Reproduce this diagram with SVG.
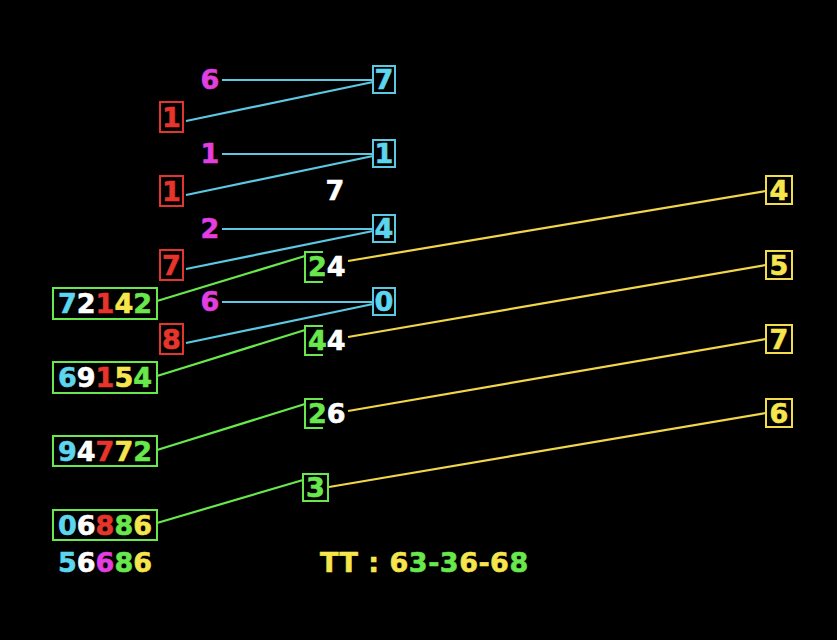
<svg xmlns="http://www.w3.org/2000/svg" width="837" height="640" viewBox="0 0 837 640">
<style>
text{font-family:"DejaVu Sans",Verdana,sans-serif;font-weight:bold;font-size:27px;stroke-width:0.6;stroke-linejoin:round}
.m{fill:#e23ee0;stroke:#e23ee0}.c{fill:#5cd6ee;stroke:#5cd6ee}.r{fill:#e8352b;stroke:#e8352b}.g{fill:#68e84c;stroke:#68e84c}.y{fill:#f6e54c;stroke:#f6e54c}.w{fill:#ffffff;stroke:#ffffff}
.bc{fill:none;stroke:#5cc8e2;stroke-width:2}
.br{fill:none;stroke:#e2352d;stroke-width:2}
.bg{fill:none;stroke:#68e84c;stroke-width:2}
.by{fill:none;stroke:#f2dc4c;stroke-width:2}
.lc{stroke:#5cc8e2;stroke-width:2.2;fill:none}
.lg{stroke:#68e84c;stroke-width:2.2;fill:none}
.ly{stroke:#f2d64a;stroke-width:2.2;fill:none}
.mid{text-anchor:middle}
</style>
<rect width="837" height="640" fill="#000"/>
<g id="connectors">
<line class="lc" x1="222" y1="80" x2="373" y2="80"/>
<line class="lc" x1="186" y1="121" x2="373" y2="82"/>
<line class="lc" x1="222" y1="154" x2="373" y2="154"/>
<line class="lc" x1="186" y1="195" x2="373" y2="156"/>
<line class="lc" x1="222" y1="229" x2="373" y2="229"/>
<line class="lc" x1="186" y1="269" x2="373" y2="231"/>
<line class="lc" x1="222" y1="302" x2="373" y2="302"/>
<line class="lc" x1="186" y1="343" x2="373" y2="304"/>
<line class="lg" x1="157" y1="301" x2="305" y2="256"/>
<line class="lg" x1="157" y1="376" x2="305" y2="330"/>
<line class="lg" x1="157" y1="450" x2="305" y2="404"/>
<line class="lg" x1="157" y1="523" x2="303" y2="480"/>
<line class="ly" x1="348" y1="261" x2="766" y2="191"/>
<line class="ly" x1="348" y1="337" x2="766" y2="265"/>
<line class="ly" x1="348" y1="411" x2="766" y2="339"/>
<line class="ly" x1="329" y1="487" x2="766" y2="413"/>
</g>
<g id="m1"><text class="m mid" x="210" y="89">6</text></g>
<g id="m2"><text class="m mid" x="210" y="163">1</text></g>
<g id="m3"><text class="m mid" x="210" y="238">2</text></g>
<g id="m4"><text class="m mid" x="210" y="311">6</text></g>
<g id="r1"><rect class="br" x="160" y="102" width="23" height="30"/><text class="r mid" x="171.5" y="127">1</text></g>
<g id="r2"><rect class="br" x="160" y="176" width="23" height="30"/><text class="r mid" x="171.5" y="201">1</text></g>
<g id="r3"><rect class="br" x="160" y="250" width="23" height="30"/><text class="r mid" x="171.5" y="275">7</text></g>
<g id="r4"><rect class="br" x="160" y="324" width="23" height="30"/><text class="r mid" x="171.5" y="349">8</text></g>
<g id="c1"><rect class="bc" x="373" y="66" width="22" height="27"/><text class="c mid" x="384" y="89">7</text></g>
<g id="c2"><rect class="bc" x="373" y="140" width="22" height="27"/><text class="c mid" x="384" y="163">1</text></g>
<g id="c3"><rect class="bc" x="373" y="215" width="22" height="27"/><text class="c mid" x="384" y="238">4</text></g>
<g id="c4"><rect class="bc" x="373" y="288" width="22" height="27"/><text class="c mid" x="384" y="311">0</text></g>
<g id="w7"><text class="w mid" x="335" y="200">7</text></g>
<g id="p1"><path class="bg" d="M323,252 H305 V282 H323"/><text x="308" y="276"><tspan class="g">2</tspan><tspan class="w">4</tspan></text></g>
<g id="p2"><path class="bg" d="M323,326 H305 V355 H323"/><text x="308" y="350"><tspan class="g">4</tspan><tspan class="w">4</tspan></text></g>
<g id="p3"><path class="bg" d="M323,399 H305 V428 H323"/><text x="308" y="423"><tspan class="g">2</tspan><tspan class="w">6</tspan></text></g>
<g id="p4"><rect class="bg" x="303" y="474" width="25" height="27"/><text class="g mid" x="315.5" y="497">3</text></g>
<g id="b1"><rect class="bg" x="53" y="288" width="104" height="31"/><text class="mid" x="105" y="313"><tspan class="c">7</tspan><tspan class="w">2</tspan><tspan class="r">1</tspan><tspan class="y">4</tspan><tspan class="g">2</tspan></text></g>
<g id="b2"><rect class="bg" x="53" y="362" width="104" height="31"/><text class="mid" x="105" y="387"><tspan class="c">6</tspan><tspan class="w">9</tspan><tspan class="r">1</tspan><tspan class="y">5</tspan><tspan class="g">4</tspan></text></g>
<g id="b3"><rect class="bg" x="53" y="436" width="104" height="30"/><text class="mid" x="105" y="461"><tspan class="c">9</tspan><tspan class="w">4</tspan><tspan class="r">7</tspan><tspan class="y">7</tspan><tspan class="g">2</tspan></text></g>
<g id="b4"><rect class="bg" x="53" y="510" width="104" height="30"/><text class="mid" x="105" y="535"><tspan class="c">0</tspan><tspan class="w">6</tspan><tspan class="r">8</tspan><tspan class="g">8</tspan><tspan class="y">6</tspan></text></g>
<g id="sum"><text class="mid" x="105" y="572"><tspan class="c">5</tspan><tspan class="w">6</tspan><tspan class="m">6</tspan><tspan class="g">8</tspan><tspan class="y">6</tspan></text></g>
<g id="y1"><rect class="by" x="766" y="176" width="26" height="28"/><text class="y mid" x="779" y="200">4</text></g>
<g id="y2"><rect class="by" x="766" y="251" width="26" height="28"/><text class="y mid" x="779" y="275">5</text></g>
<g id="y3"><rect class="by" x="766" y="325" width="26" height="28"/><text class="y mid" x="779" y="349">7</text></g>
<g id="y4"><rect class="by" x="766" y="399" width="26" height="28"/><text class="y mid" x="779" y="423">6</text></g>
<g id="tt"><text x="320" y="572" letter-spacing="0.5"><tspan class="y">TT : 6</tspan><tspan class="g">3-3</tspan><tspan class="y">6-6</tspan><tspan class="g">8</tspan></text></g>
</svg>
